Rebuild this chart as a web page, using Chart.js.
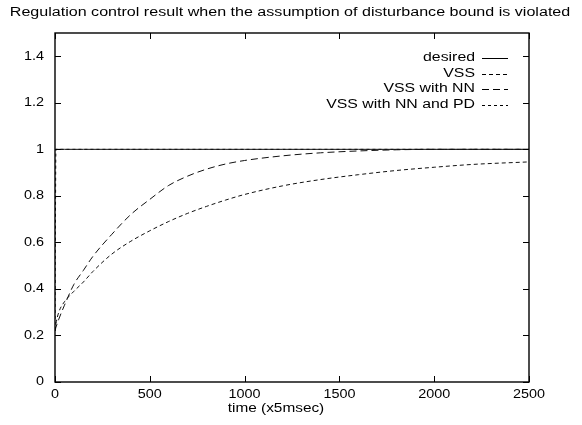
<!DOCTYPE html>
<html>
<head>
<meta charset="utf-8">
<script src="https://cdn.jsdelivr.net/npm/chart.js@4.4.0/dist/chart.umd.min.js"></script>
<style>
  html, body { margin: 0; padding: 0; background: #fff; }
  #wrap { width: 582px; height: 425px; }
</style>
</head>
<body>
<div id="wrap"><canvas id="myChart" width="582" height="425"></canvas></div>
<script>
// data
const timeSteps = [0, 5, 20, 50, 100, 150, 200, 300, 400, 500, 600, 700, 800, 900, 1000, 1200, 1400, 1600, 1800, 2000, 2200, 2500];
const desired   = timeSteps.map(() => 1);
const vss       = [0.22, 0.25, 0.30, 0.345, 0.39, 0.43, 0.475, 0.55, 0.605, 0.65, 0.69, 0.725, 0.755, 0.782, 0.806, 0.843, 0.87, 0.891, 0.909, 0.923, 0.935, 0.946];
const vssNN     = [0.22, 0.235, 0.27, 0.33, 0.42, 0.48, 0.54, 0.635, 0.72, 0.785, 0.845, 0.885, 0.915, 0.937, 0.952, 0.972, 0.985, 0.993, 0.998, 1.0, 1.0, 1.0];
const vssNNPD   = [0.22, 1.0, 1.0, 1.0, 1.0, 1.0, 1.0, 1.0, 1.0, 1.0, 1.0, 1.0, 1.0, 1.0, 1.0, 1.0, 1.0, 1.0, 1.0, 1.0, 1.0, 1.0];
const yTicks = [0, 0.2, 0.4, 0.6, 0.8, 1, 1.2, 1.4];
const xTicks = [0, 500, 1000, 1500, 2000, 2500];

const FONT = '"Liberation Sans", Arial, sans-serif';

function pts(ys) {
  return timeSteps.map((t, i) => ({ x: t, y: ys[i] }));
}

const series = [
  { label: 'desired', data: desired, dash: [] },
  { label: 'VSS', data: vss, dash: [4, 3] },
  { label: 'VSS with NN', data: vssNN, dash: [7, 4] },
  { label: 'VSS with NN and PD', data: vssNNPD, dash: [3, 3] }
];

// text stretched sideways like the scanned original
function wideText(ctx, txt, x, y, sx, align) {
  ctx.save();
  ctx.translate(x, y);
  ctx.scale(sx, 1);
  ctx.textAlign = align;
  ctx.fillText(txt, 0, 0);
  ctx.restore();
}

// gnuplot-ish frame: box, inward ticks, labels, title, legend inside
const framePlugin = {
  id: 'frame',
  afterDraw(chart) {
    const ctx = chart.ctx;
    const a = chart.chartArea;
    const xs = chart.scales.x, ys = chart.scales.y;
    ctx.save();
    ctx.strokeStyle = '#000';
    ctx.lineWidth = 1.4;
    ctx.setLineDash([]);
    ctx.strokeRect(a.left, a.top, a.right - a.left, a.bottom - a.top);
    ctx.lineWidth = 1;
    ctx.beginPath();
    yTicks.forEach(v => {
      const py = Math.round(ys.getPixelForValue(v)) + 0.5;
      ctx.moveTo(a.left, py); ctx.lineTo(a.left + 6, py);
      ctx.moveTo(a.right, py); ctx.lineTo(a.right - 6, py);
    });
    xTicks.forEach(v => {
      const px = Math.round(xs.getPixelForValue(v)) + 0.5;
      ctx.moveTo(px, a.bottom); ctx.lineTo(px, a.bottom - 6);
      ctx.moveTo(px, a.top); ctx.lineTo(px, a.top + 6);
    });
    ctx.stroke();

    ctx.fillStyle = '#000';
    ctx.font = '12px ' + FONT;
    ctx.textBaseline = 'middle';

    // tick labels
    yTicks.forEach(v => wideText(ctx, String(v), a.left - 11, ys.getPixelForValue(v), 1.2, 'right'));
    xTicks.forEach(v => wideText(ctx, String(v), xs.getPixelForValue(v), a.bottom + 13, 1.2, 'center'));
    wideText(ctx, 'time (x5msec)', 276, 409, 1.28, 'center');

    // title
    wideText(ctx, 'Regulation control result when the assumption of disturbance bound is violated', 290, 13, 1.34, 'center');

    // legend
    chart.data.datasets.forEach((ds, i) => {
      const y = 58 + i * 15.5;
      wideText(ctx, ds.label, 475, y, 1.32, 'right');
      ctx.beginPath();
      ctx.setLineDash(ds.borderDash || []);
      ctx.moveTo(482, Math.round(y) + 0.5);
      ctx.lineTo(508, Math.round(y) + 0.5);
      ctx.stroke();
    });
    ctx.restore();
  }
};

new Chart(document.getElementById('myChart').getContext('2d'), {
  type: 'line',
  data: {
    datasets: series.map(s => ({
      label: s.label,
      data: pts(s.data),
      borderColor: '#111',
      borderWidth: 1,
      borderDash: s.dash,
      pointRadius: 0,
      cubicInterpolationMode: 'monotone',
      fill: false
    }))
  },
  options: {
    responsive: false,
    animation: false,
    layout: { padding: { top: 33, right: 53, left: 0, bottom: 0 } },
    plugins: {
      legend: { display: false },
      title: { display: false },
      tooltip: { enabled: false }
    },
    scales: {
      x: {
        type: 'linear',
        min: 0, max: 2500,
        afterBuildTicks: s => { s.ticks = xTicks.map(v => ({ value: v })); },
        afterFit: s => { s.height = 43; },
        grid: { display: false, drawTicks: false },
        border: { display: false },
        ticks: { display: false }
      },
      y: {
        min: 0, max: 1.5,
        afterBuildTicks: s => { s.ticks = yTicks.map(v => ({ value: v })); },
        afterFit: s => { s.width = 55; },
        grid: { display: false, drawTicks: false },
        border: { display: false },
        ticks: { display: false }
      }
    }
  },
  plugins: [framePlugin]
});
</script>
</body>
</html>
